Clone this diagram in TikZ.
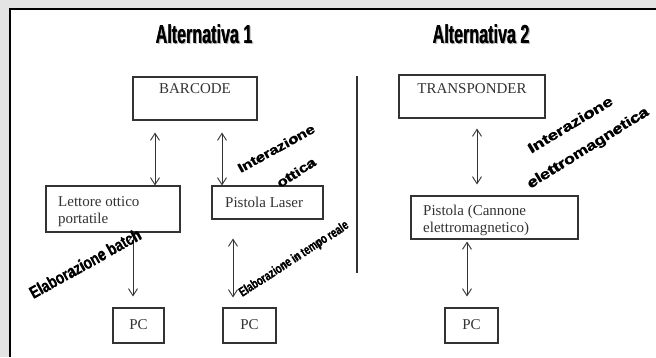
\documentclass[tikz,border=0pt]{standalone}
\usepackage{fontspec}
\setmainfont{Liberation Serif}
\newfontfamily\wafont{Liberation Sans}
\usetikzlibrary{arrows.meta}
\definecolor{bggray}{HTML}{E4E4E4}
\definecolor{ink}{HTML}{333333}
\newcommand{\heavytext}[2]{\scalebox{#1}[1]{\rlap{\hspace{0.5pt}#2}#2}}
\tikzset{
  box/.style={draw=ink, line width=1.1pt, rectangle, inner sep=0pt},
  boxtext/.style={text=ink, inner sep=0pt, font=\fontsize{15}{17}\selectfont},
  dbl/.style={draw=ink, line width=0.9pt, {Straight Barb[length=7pt,width=9pt]}-{Straight Barb[length=7pt,width=9pt]}},
  title/.style={inner sep=0pt, font=\wafont\bfseries\fontsize{26}{28}\selectfont},
  wordart/.style={inner sep=0pt, text=black}
}
\begin{document}
\begin{tikzpicture}[x=1pt,y=-1pt]
\useasboundingbox (0,0) rectangle (656,357);
\fill[bggray] (0,0) rectangle (656,357);
\fill[white] (10,9) rectangle (656,357);
\draw[black, line width=1.3pt] (10,357) -- (10,9) -- (656,9);

% titles
\node[title, text=gray!55] at (205.4,35.4) {\scalebox{0.62}[1]{Alternativa 1}};
\node[title] (t1) at (204,34) {\heavytext{0.62}{Alternativa 1}};
\node[title, text=gray!55] at (482.4,35.4) {\scalebox{0.62}[1]{Alternativa 2}};
\node[title] (t2) at (481,34) {\heavytext{0.62}{Alternativa 2}};

% divider
\coordinate (dtop) at (357,76);
\coordinate (dbot) at (357,273);
\draw[ink, line width=1.2pt] (dtop) -- (dbot);

% boxes
\node[box, minimum width=124pt, minimum height=43pt] (bc) at (195,98.5) {};
\node[boxtext] (bcT) at (195,89) {BARCODE};
\node[box, minimum width=146pt, minimum height=43pt] (tr) at (472,96.5) {};
\node[boxtext] (trT) at (472,89) {TRANSPONDER};

\node[box, minimum width=134pt, minimum height=46pt] (lo) at (113,209) {};
\node[boxtext, anchor=west, align=left] (loT) at (58,212) {Lettore ottico\\portatile};
\node[box, minimum width=111pt, minimum height=33pt] (pl) at (267.5,202.5) {};
\node[boxtext, anchor=west] (plT) at (225,202) {Pistola Laser};
\node[box, minimum width=167pt, minimum height=43pt] (pc) at (494.5,217.5) {};
\node[boxtext, anchor=west, align=left] (pcT) at (423,220) {Pistola (Cannone\\elettromagnetico)};

\node[box, minimum width=51pt, minimum height=35pt] (pc1) at (138.5,325.5) {};
\node[boxtext] (pc1T) at (138.5,325) {PC};
\node[box, minimum width=53pt, minimum height=35pt] (pc2) at (249.5,325.5) {};
\node[boxtext] (pc2T) at (249.5,325) {PC};
\node[box, minimum width=53pt, minimum height=35pt] (pc3) at (471.5,325.5) {};
\node[boxtext] (pc3T) at (471.5,325) {PC};

% arrows
\draw[dbl, shorten <=12pt] (bc.south -| 155,0) -- (lo.north -| 155,0);
\draw[dbl, shorten <=12pt] (bc.south -| 222,0) -- (pl.north -| 222,0);
\draw[dbl, shorten <=1pt, shorten >=11pt] (lo.south -| 133,0) -- (pc1.north -| 133,0);
\draw[dbl, shorten <=19pt, shorten >=10pt] (pl.south -| 233,0) -- (pc2.north -| 233,0);
\draw[dbl, shorten <=10pt, shorten >=11pt] (tr.south -| 477,0) -- (pc.north -| 477,0);
\draw[dbl, shorten <=2pt, shorten >=11pt] (pc.south -| 467,0) -- (pc3.north -| 467,0);

% rotated labels
\node[wordart, font=\wafont\bfseries\fontsize{17}{19}\selectfont, rotate=29] (lb1) at (85,264) {\heavytext{0.8}{Elaborazione batch}};
\node[wordart, font=\wafont\bfseries\fontsize{13}{15}\selectfont, rotate=33] (lb2) at (294,260) {\heavytext{0.74}{Elaborazione in tempo reale}};
\node[wordart, font=\wafont\bfseries\fontsize{13}{15}\selectfont, rotate=29] (lb3) at (276,149) {\heavytext{1.25}{Interazione}};
\node[wordart, font=\wafont\bfseries\fontsize{13}{15}\selectfont, rotate=33] (lb4) at (296,173) {\heavytext{1.25}{ottica}};
\node[wordart, font=\wafont\bfseries\fontsize{14}{16}\selectfont, rotate=31] (lb5) at (570,125) {\heavytext{1.3}{Interazione}};
\node[wordart, font=\wafont\bfseries\fontsize{14}{16}\selectfont, rotate=32] (lb6) at (588,149) {\heavytext{1.25}{elettromagnetica}};
\end{tikzpicture}
\end{document}
